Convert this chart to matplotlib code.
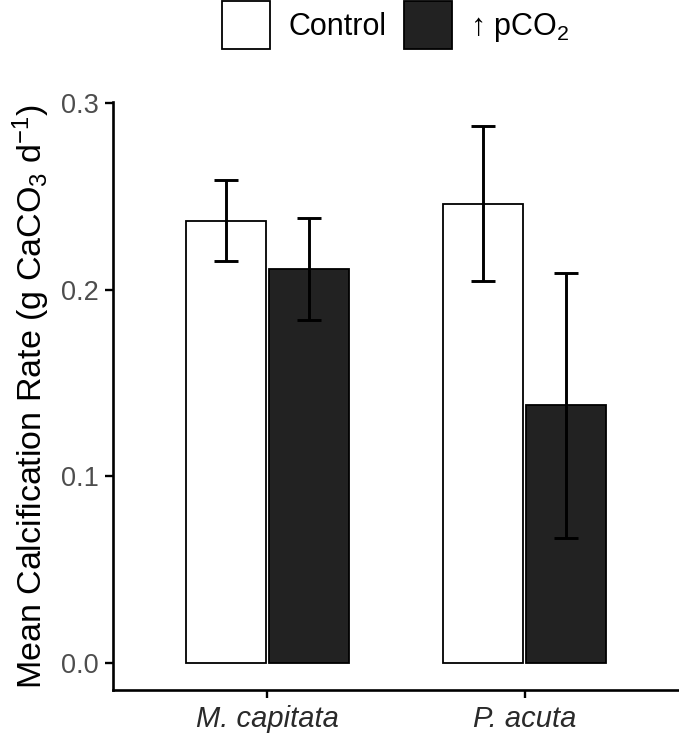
import matplotlib
matplotlib.use("Agg")
import matplotlib.pyplot as plt
from matplotlib.patches import Patch
import numpy as np

plt.rcParams['font.family'] = ['Liberation Sans', 'DejaVu Sans']
plt.rcParams['mathtext.fontset'] = 'custom'
plt.rcParams['mathtext.rm'] = 'Liberation Sans'
plt.rcParams['mathtext.it'] = 'Liberation Sans:italic'

species = ["M. capitata", "P. acuta"]
treatments = ["Control", "↑ pCO$_2$"]
means_control = [0.237, 0.246]
means_pco2 = [0.211, 0.138]
err_control = [0.0215, 0.0415]
err_pco2 = [0.0275, 0.071]
colors = ["#FFFFFF", "#222222"]

fig = plt.figure(figsize=(6.79, 7.36), dpi=100)
ax = fig.add_axes([113/679, 1-690/736, 1-113/679, (690-102)/736])

x = np.arange(1, len(species)+1)
offset = 0.162
width = 0.31
for i, (m, e, c) in enumerate([(means_control, err_control, colors[0]),
                                (means_pco2, err_pco2, colors[1])]):
    xs = x + (-offset if i == 0 else offset)
    ax.bar(xs, m, width=width, color=c, edgecolor='black', linewidth=1.3, zorder=2)
    ax.errorbar(xs, m, yerr=e, fmt='none', ecolor='black', elinewidth=2.1,
                capsize=8.3, capthick=2.1, zorder=3)

ax.set_xlim(0.4, 2.6)
ax.set_ylim(-0.0145, 0.3005)
ax.set_xticks(x)
ax.set_xticklabels(species, fontsize=21, style='italic', color='#2A2A2A')
ax.set_yticks([0.0, 0.1, 0.2, 0.3])
ax.set_yticklabels(["0.0", "0.1", "0.2", "0.3"], fontsize=19.5, color='#4D4D4D')
ax.tick_params(axis='both', direction='out', length=5.5, width=1.7, color='black')
ax.tick_params(axis='x', pad=5)
ax.tick_params(axis='y', pad=5)
for s in ['top', 'right']:
    ax.spines[s].set_visible(False)
for s in ['left', 'bottom']:
    ax.spines[s].set_linewidth(1.9)
ax.set_ylabel('Mean Calcification Rate (g CaCO$_3$ d$^{-1}$)', fontsize=24.5, labelpad=6)

handles = [Patch(facecolor=colors[0], edgecolor='black', linewidth=1.3),
           Patch(facecolor=colors[1], edgecolor='black', linewidth=1.3)]
fig.legend(handles, treatments, loc='center', bbox_to_anchor=(396/679, 1-25/736),
           ncol=2, frameon=False, fontsize=22, handlelength=1.55, handleheight=2.0,
           handletextpad=0.6, columnspacing=0.6)

fig.savefig("out.png", dpi=100)
